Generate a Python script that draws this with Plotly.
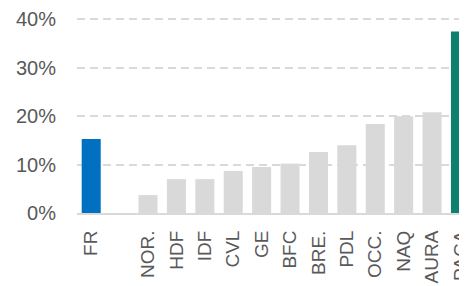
import plotly.graph_objects as go

categories = ["FR", " ", "NOR.", "HDF", "IDF", "CVL", "GE", "BFC", "BRE.", "PDL", "OCC.", "NAQ", "AURA", "PACA"]
values = [0.153, None, 0.037, 0.070, 0.070, 0.087, 0.095, 0.102, 0.126, 0.140, 0.184, 0.200, 0.208, 0.375]
y_ticks = [0, 0.1, 0.2, 0.3, 0.4]

BLUE = "#0070C0"
TEAL = "#0F7F6F"
GREY = "#D9D9D9"
colors = [BLUE if c == "FR" else TEAL if c == "PACA" else GREY for c in categories]

fig = go.Figure(go.Bar(x=categories, y=values, marker=dict(color=colors, line=dict(width=0)),
                       hoverinfo="x+y"))

# page body has an 8px default margin; the figure is sized so its right and bottom edges are cropped
fig.update_layout(
    width=459, height=278,
    margin=dict(l=69, r=0, t=9, b=73),
    paper_bgcolor="white", plot_bgcolor="white",
    bargap=0.33,
    showlegend=False,
    font=dict(family="Liberation Sans, Arial, sans-serif", color="#595959"),
)
fig.update_xaxes(
    type="category", range=[-0.5, 13.23],
    tickangle=-90, tickfont=dict(size=19, color="#595959"),
    showgrid=False, showline=True, linecolor=GREY, linewidth=2,
    ticks="", ticklabelstandoff=8, automargin=False,
)
fig.update_yaxes(
    range=[0, 0.405], tickvals=y_ticks, tickformat=".0%",
    tickfont=dict(size=20, color="#595959"),
    showgrid=True, gridcolor=GREY, gridwidth=1.5, griddash="8px,5px",
    zeroline=False, showline=False, ticks="", ticklabelstandoff=20,
    automargin=False,
)

fig.write_html("out.html")
